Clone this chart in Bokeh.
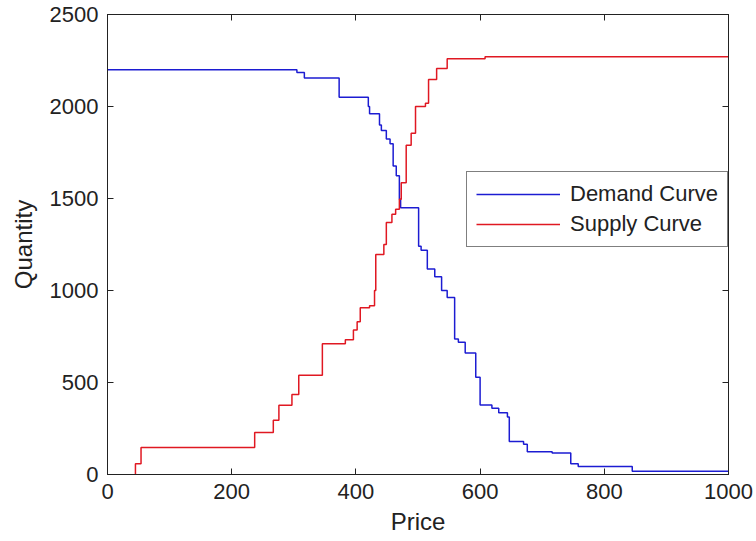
from bokeh.plotting import figure
from bokeh.models import LinearAxis, FixedTicker, Range1d, Legend, LegendItem
from bokeh.embed import file_html
from bokeh.resources import INLINE

# Demand curve (step, value holds after each price)
demand_price = [0, 305, 317, 373, 420, 422, 438, 441, 449, 455, 460, 465, 470, 472,
                501, 505, 515, 527, 538, 547, 559, 565, 576, 593, 600, 619, 630, 644,
                647, 670, 676, 716, 746, 758, 845, 1000]
demand_qty = [2200, 2185, 2155, 2050, 2000, 1960, 1900, 1870, 1823, 1798, 1677, 1623, 1496, 1450,
              1240, 1219, 1117, 1075, 1000, 962, 737, 719, 660, 529, 378, 360, 336, 313,
              180, 165, 124, 117, 58, 43, 18, 18]

# Supply curve
supply_price = [45, 45, 54, 237, 267, 276, 297, 308, 346, 383, 396, 402, 407, 422, 430,
                432, 445, 449, 458, 464, 470, 473, 481, 489, 496, 512, 517, 530, 547, 608, 1000]
supply_qty = [0, 58, 147, 228, 295, 376, 435, 539, 710, 732, 786, 830, 906, 917, 1000,
              1195, 1250, 1370, 1415, 1442, 1496, 1586, 1790, 1855, 2000, 2017, 2147, 2206, 2260, 2270, 2270]

x_ticks = [0, 200, 400, 600, 800, 1000]
y_ticks = [0, 500, 1000, 1500, 2000, 2500]

FONT = "Liberation Sans"
TICK_FS = "22px"
LABEL_FS = "24px"

p = figure(width=756, height=541, output_backend="svg", toolbar_location=None,
           x_range=Range1d(0, 1000), y_range=Range1d(0, 2500),
           min_border_left=107, min_border_right=28, min_border_top=14, min_border_bottom=67,
           background_fill_color="white", border_fill_color="white")
p.grid.visible = False
p.outline_line_color = "black"
p.outline_line_width = 1

def style_axis(ax, ticks, labels=True):
    ax.ticker = FixedTicker(ticks=ticks)
    ax.minor_tick_line_color = None
    ax.major_tick_in = 6
    ax.major_tick_out = 0
    ax.axis_line_color = "#222222"
    ax.major_tick_line_color = "#222222"
    ax.major_label_text_font = FONT
    if labels:
        ax.major_label_text_font_size = TICK_FS
        ax.major_label_text_color = "#222222"
        ax.major_label_standoff = 9
    else:
        ax.major_label_text_font_size = "1px"
        ax.major_label_text_color = None
        ax.major_label_standoff = 0
    ax.axis_label_text_font = FONT
    ax.axis_label_text_font_size = LABEL_FS
    ax.axis_label_text_font_style = "normal"
    ax.axis_label_text_color = "#222222"

style_axis(p.xaxis[0], x_ticks)
style_axis(p.yaxis[0], y_ticks)
p.xaxis[0].axis_label = "Price"
p.yaxis[0].axis_label = "Quantity"
p.xaxis[0].axis_label_standoff = 6
p.yaxis[0].axis_label_standoff = 10

top = LinearAxis()
style_axis(top, x_ticks, labels=False)
p.add_layout(top, "above")
right = LinearAxis()
style_axis(right, y_ticks, labels=False)
p.add_layout(right, "right")

r_d = p.step(demand_price, demand_qty, mode="after", line_color="#1c1cd2", line_width=1.5)
r_s = p.step(supply_price, supply_qty, mode="after", line_color="#e01822", line_width=1.5)

legend = Legend(items=[LegendItem(label="Demand Curve", renderers=[r_d]),
                       LegendItem(label="Supply Curve", renderers=[r_s])],
                location=(359, 227))
legend.border_line_color = "black"
legend.border_line_width = 1
legend.background_fill_color = "white"
legend.background_fill_alpha = 1
legend.label_text_font = FONT
legend.label_text_font_size = "22px"
legend.label_text_color = "#222222"
legend.glyph_width = 84
legend.glyph_height = 20
legend.label_height = 20
legend.label_standoff = 10
legend.spacing = 4
legend.padding = 9
legend.margin = 0
p.add_layout(legend, "center")

open("out.html", "w").write(file_html(p, INLINE))
